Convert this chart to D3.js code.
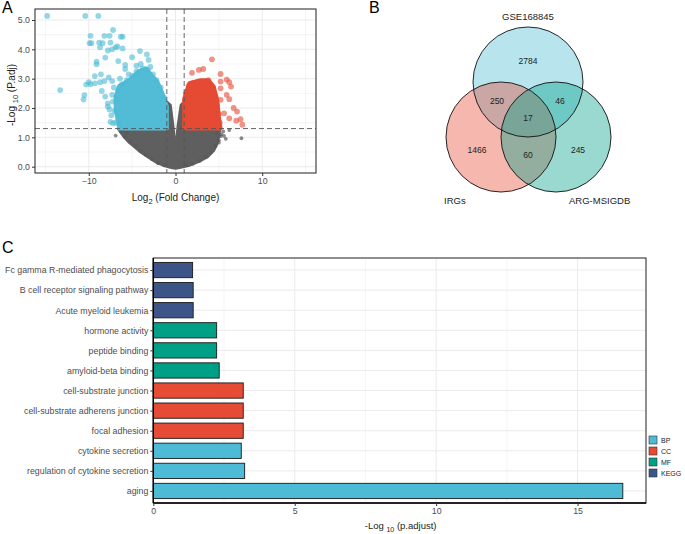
<!DOCTYPE html>
<html>
<head>
<meta charset="utf-8">
<script src="https://cdn.jsdelivr.net/npm/d3@7"></script>
<style>
  body { margin: 0; background: #fff; }
  svg { font-family: "Liberation Sans", Arial, sans-serif; }
</style>
</head>
<body>
<svg id="fig" width="685" height="534"></svg>
<script>
// ---- panel A: volcano (dense clouds as envelopes + visible single points)
var blueCloud = [[-1.0,1.3],[-1.0,2.05],[-1.5,2.5],[-2.1,2.9],[-2.7,3.1],[-3.4,3.35],[-4.3,3.24],[-5.2,2.98],[-6.5,2.75],[-6.9,2.39],[-6.9,1.93],[-6.6,1.5],[-6.5,1.3]];
var redCloud = [[1.0,1.3],[1.0,2.3],[1.3,2.6],[1.6,2.85],[2.9,2.95],[3.8,2.95],[4.4,2.73],[4.8,2.28],[5.0,1.7],[5.2,1.3]];
var grayCloud = [[-6.6,1.3],[-6.0,1.05],[-5.4,0.85],[-4.8,0.7],[-4.0,0.5],[-3.1,0.32],[-2.2,0.15],[-1.4,0.05],[-0.6,-0.02],[0,-0.05],[0.6,-0.02],[1.7,0.06],[2.7,0.18],[3.7,0.34],[4.4,0.55],[4.8,0.8],[5.0,1.05],[5.1,1.3],[1.0,1.3],[1.0,2.2],[0.65,2.1],[0.3,1.4],[0,0.5],[-0.3,1.4],[-0.6,2.1],[-1.0,2.2],[-1.0,1.3]];

var bluePoints = [[-14.8,5.14],[-10.4,5.14],[-8.9,5.14],[-7.2,4.66],[-9.8,4.46],[-9.7,4.21],[-9.9,4.21],[-8.2,4.46],[-7.6,4.46],[-6.3,4.43],[-6.1,4.43],
  [-8.8,4.23],[-8.4,4.21],[-8.7,4.07],[-7.5,4.23],[-6.9,4.07],[-7.8,3.96],[-7.3,4.0],[-6.7,4.1],[-6.1,4.03],[-4.1,3.94],[-3.3,3.83],[-3.1,3.64],
  [-8.1,3.72],[-5.0,3.73],[-9.1,3.58],[-9.1,3.49],[-6.6,3.6],[-5.8,3.47],[-4.5,3.44],[-5.8,3.33],[-9.3,3.09],[-8.6,3.15],[-10.0,2.88],[-9.8,2.81],
  [-10.3,2.8],[-9.3,2.84],[-8.7,2.88],[-8.2,2.92],[-7.7,3.04],[-7.3,2.92],[-13.3,2.61],[-10.5,2.44],[-10.6,2.29],[-8.5,2.58],[-8.1,2.39],[-7.8,2.16],
  [-7.8,2.05],[-7.2,2.22],[-7.5,1.53],[-7.2,1.48],[-6.4,1.48],
  [-6.9,1.5],[-7.0,1.9],[-6.8,2.3],[-6.6,2.6],[-6.2,2.8],[-5.6,2.95],[-5.0,3.1],[-4.5,3.25],[-3.8,3.35],[-3.2,3.3],[-2.6,3.15],[-2.2,2.95],[-1.7,2.7],[-1.3,2.35],
  [-7.4,1.75],[-7.3,2.45],[-7.1,2.7],[-6.4,3.0],[-5.4,3.15],[-4.0,3.5],[-2.9,3.4],[-7.6,1.95]];
var redPoints = [[4.2,3.66],[2.7,3.3],[3.2,3.33],[1.9,3.2],[5.2,3.16],[5.9,2.97],[6.2,2.88],[6.4,2.73],[5.2,2.9],[5.2,2.67],[5.9,2.45],[6.2,2.3],
  [6.7,2.0],[7.1,1.88],[7.5,1.62],[7.7,1.43],[7.0,1.57],[6.2,1.65],[5.6,1.82],[5.2,2.28],
  [1.5,2.75],[2.0,2.85],[2.6,2.9],[3.2,2.85],[3.8,2.95],[4.3,2.7],[4.6,2.4],[4.8,2.1],[5.0,1.8],[5.1,1.5],[4.9,1.35],[1.2,2.5]];
var grayPoints = [[-6.3,1.2],[-5.8,1.0],[-5.2,0.85],[-4.6,0.7],[-4.0,0.55],[-3.4,0.4],[-2.7,0.25],[-2.0,0.12],[-1.3,0.05],[1.3,0.05],[2.0,0.1],
  [2.8,0.2],[3.5,0.33],[4.1,0.5],[4.6,0.7],[5.0,0.9],[5.3,1.1],[5.5,1.2],[4.8,1.14],[5.2,1.04],[5.0,0.82],[4.6,0.72],[-6.9,1.06],[7.6,0.97],
  [6.2,1.25],[5.8,0.95],[5.6,1.05],[-5.6,1.15],[-6.0,1.25]];

var volcanoXTicks = [-10, 0, 10];
var volcanoYTicks = [0, 1, 2, 3, 4, 5];
var fcCut = 1, padjCut = 1.3;

// ---- panel B: Venn
var vennSets = ["GSE168845", "IRGs", "ARG-MSIGDB"];
var vennColors = ["#4DBBD5", "#E64B35", "#00A087"];
var vennCounts = [
  { label: "2784", where: "top" },
  { label: "250", where: "topLeft" },
  { label: "46", where: "topRight" },
  { label: "17", where: "center" },
  { label: "1466", where: "left" },
  { label: "60", where: "bottom" },
  { label: "245", where: "right" }
];

// ---- panel C: enrichment bars
var terms = ["Fc gamma R-mediated phagocytosis", "B cell receptor signaling pathway", "Acute myeloid leukemia",
  "hormone activity", "peptide binding", "amyloid-beta binding",
  "cell-substrate junction", "cell-substrate adherens junction", "focal adhesion",
  "cytokine secretion", "regulation of cytokine secretion", "aging"];
var termValues = [1.39, 1.41, 1.41, 2.24, 2.24, 2.33, 3.18, 3.18, 3.18, 3.11, 3.23, 16.6];
var termGroups = ["KEGG", "KEGG", "KEGG", "MF", "MF", "MF", "CC", "CC", "CC", "BP", "BP", "BP"];
var groupNames = ["BP", "CC", "MF", "KEGG"];
var groupColors = ["#4DBBD5", "#E64B35", "#00A087", "#3C5488"];
var barXTicks = [0, 5, 10, 15];

var svg = d3.select("#fig");
var gridCol = "#ebebeb", textCol = "#4d4d4d";

function panelLetter(t, x, y) {
  svg.append("text").attr("x", x).attr("y", y).attr("font-size", 16).attr("fill", "#000").text(t);
}

// =========== A ===========
(function () {
  var L = 35, R = 316, T = 9, B = 173;
  var x = d3.scaleLinear().domain([-16.2, 16.2]).range([L, R]);
  var y = d3.scaleLinear().domain([-0.215, 5.375]).range([B, T]);
  var g = svg.append("g");

  g.append("clipPath").attr("id", "clipA").append("rect").attr("x", L).attr("y", T).attr("width", R - L).attr("height", B - T);

  d3.range(-15, 16, 5).forEach(function (v) {
    g.append("line").attr("x1", x(v)).attr("x2", x(v)).attr("y1", T).attr("y2", B)
      .attr("stroke", gridCol).attr("stroke-width", v % 10 === 0 ? 1 : 0.5);
  });
  d3.range(0, 5.5, 0.5).forEach(function (v) {
    g.append("line").attr("x1", L).attr("x2", R).attr("y1", y(v)).attr("y2", y(v))
      .attr("stroke", gridCol).attr("stroke-width", v % 1 === 0 ? 1 : 0.5);
  });

  var pts = g.append("g").attr("clip-path", "url(#clipA)");
  var line = d3.line().x(function (d) { return x(d[0]); }).y(function (d) { return y(d[1]); }).curve(d3.curveLinearClosed);

  pts.append("path").attr("d", line(grayCloud)).attr("fill", "#5f5f5f").attr("stroke", "#5f5f5f").attr("stroke-width", 3).attr("stroke-linejoin", "round");
  pts.selectAll("circle.gray").data(grayPoints).enter().append("circle").attr("class", "gray")
    .attr("cx", function (d) { return x(d[0]); }).attr("cy", function (d) { return y(d[1]); })
    .attr("r", 1.9).attr("fill", "#595959").attr("fill-opacity", 0.7);

  pts.append("path").attr("d", line(blueCloud)).attr("fill", "#52bcd6").attr("stroke", "#52bcd6").attr("stroke-width", 4).attr("stroke-linejoin", "round");
  pts.selectAll("circle.blue").data(bluePoints).enter().append("circle").attr("class", "blue")
    .attr("cx", function (d) { return x(d[0]); }).attr("cy", function (d) { return y(d[1]); })
    .attr("r", 2.9).attr("fill", "#4DBBD5").attr("fill-opacity", 0.6);

  pts.append("path").attr("d", line(redCloud)).attr("fill", "#e54a33").attr("stroke", "#e54a33").attr("stroke-width", 4).attr("stroke-linejoin", "round");
  pts.selectAll("circle.red").data(redPoints).enter().append("circle").attr("class", "red")
    .attr("cx", function (d) { return x(d[0]); }).attr("cy", function (d) { return y(d[1]); })
    .attr("r", 2.9).attr("fill", "#E64B35").attr("fill-opacity", 0.6);

  [-fcCut, fcCut].forEach(function (v) {
    g.append("line").attr("x1", x(v)).attr("x2", x(v)).attr("y1", T).attr("y2", B)
      .attr("stroke", "#555").attr("stroke-width", 0.9).attr("stroke-dasharray", "5,3");
  });
  g.append("line").attr("x1", L).attr("x2", R).attr("y1", y(padjCut)).attr("y2", y(padjCut))
    .attr("stroke", "#555").attr("stroke-width", 0.9).attr("stroke-dasharray", "5,3");

  g.append("rect").attr("x", L).attr("y", T).attr("width", R - L).attr("height", B - T)
    .attr("fill", "none").attr("stroke", "#333").attr("stroke-width", 1.1);

  var xa = g.append("g").attr("transform", "translate(0," + B + ")")
    .call(d3.axisBottom(x).tickValues(volcanoXTicks).tickSize(3).tickPadding(2).tickFormat(d3.format("d")));
  var ya = g.append("g").attr("transform", "translate(" + L + ",0)")
    .call(d3.axisLeft(y).tickValues(volcanoYTicks).tickSize(3).tickPadding(2));
  [xa, ya].forEach(function (a) {
    a.select(".domain").remove();
    a.selectAll("line").attr("stroke", "#333");
    a.selectAll("text").attr("font-size", 8.8).attr("fill", textCol).attr("font-family", "Liberation Sans, Arial, sans-serif");
  });

  var xt = g.append("text").attr("x", (L + R) / 2).attr("y", 201).attr("text-anchor", "middle").attr("font-size", 10).attr("fill", "#222");
  xt.append("tspan").text("Log");
  xt.append("tspan").attr("font-size", 7.5).attr("dy", 2.5).text("2");
  xt.append("tspan").attr("dy", -2.5).text(" (Fold Change)");

  var yt = g.append("text").attr("transform", "translate(15," + 95 + ") rotate(-90)").attr("text-anchor", "middle").attr("font-size", 10).attr("fill", "#222");
  yt.append("tspan").text("-Log ");
  yt.append("tspan").attr("font-size", 7.5).attr("dy", 2.5).text("10");
  yt.append("tspan").attr("dy", -2.5).text(" (P.adj)");

  panelLetter("A", 2, 13);
})();

// =========== B ===========
(function () {
  var r = 55;
  var centers = [[528, 82], [501, 137], [556, 137]];
  var g = svg.append("g");
  centers.forEach(function (c, i) {
    g.append("circle").attr("cx", c[0]).attr("cy", c[1]).attr("r", r)
      .attr("fill", vennColors[i]).attr("fill-opacity", 0.4).attr("stroke", "none");
  });
  centers.forEach(function (c) {
    g.append("circle").attr("cx", c[0]).attr("cy", c[1]).attr("r", r)
      .attr("fill", "none").attr("stroke", "#111").attr("stroke-width", 0.9);
  });
  var spots = {
    top: [528, 61], topLeft: [497, 101], topRight: [560, 101], center: [528, 118],
    left: [477, 150], bottom: [528, 155], right: [578, 150]
  };
  vennCounts.forEach(function (d) {
    g.append("text").attr("x", spots[d.where][0]).attr("y", spots[d.where][1] + 3)
      .attr("text-anchor", "middle").attr("font-size", 8.5).attr("fill", "#222").text(d.label);
  });
  g.append("text").attr("x", 528).attr("y", 20).attr("text-anchor", "middle").attr("font-size", 9.5).attr("fill", "#222").text(vennSets[0]);
  g.append("text").attr("x", 444).attr("y", 204).attr("font-size", 9.5).attr("fill", "#222").text(vennSets[1]);
  g.append("text").attr("x", 569).attr("y", 204).attr("font-size", 9.5).attr("fill", "#222").text(vennSets[2]);
  panelLetter("B", 369, 13);
})();

// =========== C ===========
(function () {
  var L = 153.3, R = 646, T = 258, B = 503;
  var x = d3.scaleLinear().domain([0, 17.42]).range([L, R]);
  var y = d3.scalePoint().domain(terms).range([T, B]).padding(0.6);
  var color = d3.scaleOrdinal().domain(groupNames).range(groupColors);
  var bh = y.step() * 0.76;
  var g = svg.append("g");

  d3.range(0, 17.5, 2.5).forEach(function (v) {
    g.append("line").attr("x1", x(v)).attr("x2", x(v)).attr("y1", T).attr("y2", B)
      .attr("stroke", gridCol).attr("stroke-width", v % 5 === 0 ? 1 : 0.5);
  });
  terms.forEach(function (t) {
    g.append("line").attr("x1", L).attr("x2", R).attr("y1", y(t)).attr("y2", y(t))
      .attr("stroke", gridCol).attr("stroke-width", 1);
  });

  g.selectAll("rect.bar").data(terms).enter().append("rect").attr("class", "bar")
    .attr("x", x(0)).attr("y", function (d) { return y(d) - bh / 2; })
    .attr("width", function (d, i) { return x(termValues[i]) - x(0); })
    .attr("height", bh)
    .attr("fill", function (d, i) { return color(termGroups[i]); })
    .attr("stroke", "#1a1a1a").attr("stroke-width", 0.9);

  g.append("rect").attr("x", L).attr("y", T).attr("width", R - L).attr("height", B - T)
    .attr("fill", "none").attr("stroke", "#333").attr("stroke-width", 1.1);
  g.append("line").attr("x1", L).attr("x2", L).attr("y1", T).attr("y2", B).attr("stroke", "#000").attr("stroke-width", 1.4);
  g.append("line").attr("x1", L).attr("x2", R).attr("y1", B).attr("y2", B).attr("stroke", "#000").attr("stroke-width", 1.4);

  var xa = g.append("g").attr("transform", "translate(0," + B + ")")
    .call(d3.axisBottom(x).tickValues(barXTicks).tickSize(3).tickPadding(2));
  var ya = g.append("g").attr("transform", "translate(" + L + ",0)")
    .call(d3.axisLeft(y).tickSize(3).tickPadding(2));
  [xa, ya].forEach(function (a) {
    a.select(".domain").remove();
    a.selectAll("line").attr("stroke", "#333");
    a.selectAll("text").attr("font-size", 8.8).attr("fill", textCol).attr("font-family", "Liberation Sans, Arial, sans-serif");
  });

  var xt = g.append("text").attr("x", (L + R) / 2 + 1).attr("y", 529).attr("text-anchor", "middle").attr("font-size", 9.5).attr("fill", "#222");
  xt.append("tspan").text("-Log ");
  xt.append("tspan").attr("font-size", 7).attr("dy", 2.5).text("10");
  xt.append("tspan").attr("dy", -2.5).text(" (p.adjust)");

  var lg = g.append("g");
  groupNames.forEach(function (n, i) {
    var yy = 436 + i * 11;
    lg.append("rect").attr("x", 649).attr("y", yy).attr("width", 8).attr("height", 8)
      .attr("fill", color(n)).attr("stroke", "#333").attr("stroke-width", 0.6);
    lg.append("text").attr("x", 661).attr("y", yy + 6.5).attr("font-size", 7).attr("fill", "#222").text(n);
  });

  panelLetter("C", 2, 253);
})();
</script>
</body>
</html>
